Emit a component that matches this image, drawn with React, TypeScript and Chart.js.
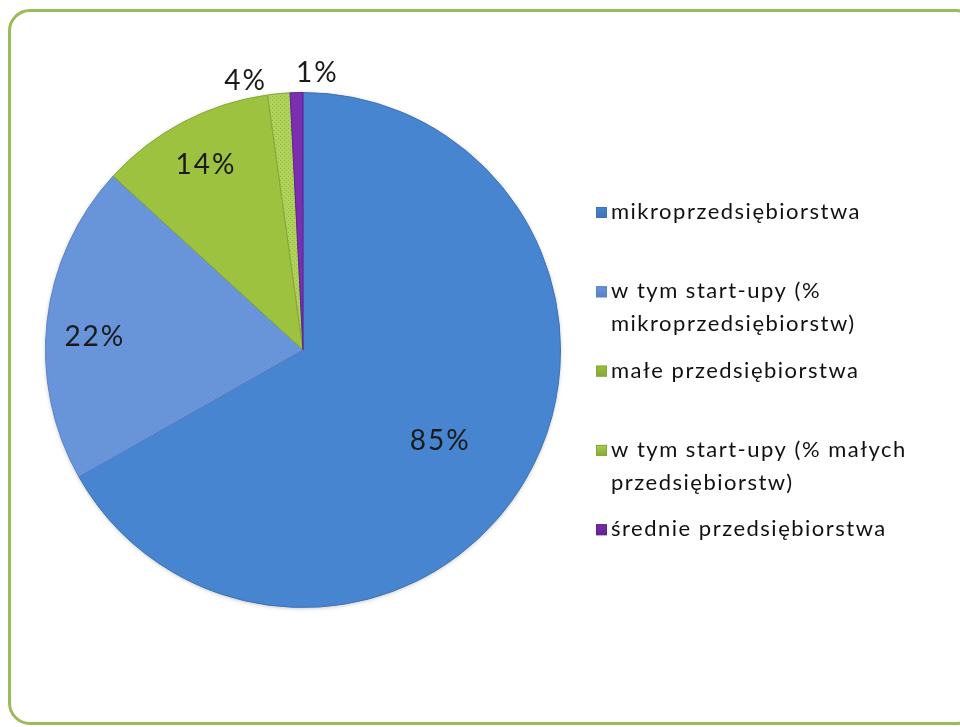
import React, { useEffect, useRef } from 'react';
import { Chart, registerables } from 'chart.js';

Chart.register(...registerables);

const categories = [
  'mikroprzedsiębiorstwa',
  'w tym start-upy (% mikroprzedsiębiorstw)',
  'małe przedsiębiorstwa',
  'w tym start-upy (% małych przedsiębiorstw)',
  'średnie przedsiębiorstwa',
];
const sliceShares = [66.8, 20.0, 11.0, 1.4, 0.8];
const labelTexts = ['85%', '22%', '14%', '4%', '1%'];
const baseColors = ['#4885d0', '#6896da', '#9dc23f', '#b0d25a', '#7a2fb0'];
const dotColors = ['', '#6f88d4', '', '#93bb3e', ''];
const edgeColors = ['#3f72b3', '#5a82c4', '#86a835', '#86a835', '#5e2390'];

function makeFill(ctx: CanvasRenderingContext2D, i: number): any {
  if (!dotColors[i]) return baseColors[i];
  const c = document.createElement('canvas');
  c.width = 4;
  c.height = 4;
  const x = c.getContext('2d')!;
  x.fillStyle = baseColors[i];
  x.fillRect(0, 0, 4, 4);
  x.fillStyle = dotColors[i];
  x.fillRect(0, 0, 1, 1);
  x.fillRect(2, 2, 1, 1);
  return ctx.createPattern(c, 'repeat');
}

const LABEL_FONT = '28px Lato, "Open Sans", sans-serif';
const LEGEND_FONT = '22px Lato, "Open Sans", sans-serif';

const labelPlugin = {
  id: 'sliceLabels',
  afterDatasetsDraw(chart: any) {
    const ctx = chart.ctx as CanvasRenderingContext2D;
    const meta = chart.getDatasetMeta(0);
    const total = sliceShares.reduce((a, b) => a + b, 0);
    let outsideCount = 0;
    ctx.save();
    ctx.font = LABEL_FONT;
    (ctx as any).letterSpacing = '2px';
    ctx.fillStyle = '#1a1a1a';
    ctx.textBaseline = 'middle';
    meta.data.forEach((arc: any, i: number) => {
      const { x, y, startAngle, endAngle, outerRadius } = arc.getProps(
        ['x', 'y', 'startAngle', 'endAngle', 'outerRadius'],
        true
      );
      const mid = (startAngle + endAngle) / 2;
      const share = (sliceShares[i] / total) * 100;
      if (share >= 5) {
        const f = share > 50 ? 0.64 : 0.81;
        const a = share > 50 ? mid + 0.06 : share > 15 ? mid - 0.05 : mid;
        const lx = x + Math.cos(a) * outerRadius * f;
        const ly = y + Math.sin(a) * outerRadius * f;
        ctx.textAlign = 'center';
        ctx.fillText(labelTexts[i], lx, ly);
      } else {
        const r = outerRadius + 20;
        const lx = x + Math.cos(mid) * r;
        const ly = y + Math.sin(mid) * r;
        if (outsideCount === 0) {
          ctx.textAlign = 'right';
          ctx.fillText(labelTexts[i], lx - 10, ly + 7);
        } else {
          ctx.textAlign = 'left';
          ctx.fillText(labelTexts[i], lx, ly);
        }
        outsideCount++;
      }
    });
    ctx.restore();
  },
};

function wrapText(ctx: CanvasRenderingContext2D, text: string, maxW: number): string[] {
  const words = text.split(' ');
  const lines: string[] = [];
  let cur = '';
  for (const w of words) {
    const t = cur ? cur + ' ' + w : w;
    if (ctx.measureText(t).width > maxW && cur) {
      lines.push(cur);
      cur = w;
    } else cur = t;
  }
  if (cur) lines.push(cur);
  return lines;
}

const legendPlugin = {
  id: 'sideLegend',
  afterDraw(chart: any) {
    const ctx = chart.ctx as CanvasRenderingContext2D;
    const left = 596;
    const top = 212;
    const step = 79.3;
    const lineH = 33;
    ctx.save();
    ctx.font = LEGEND_FONT;
    (ctx as any).letterSpacing = '1.5px';
    ctx.textBaseline = 'middle';
    ctx.textAlign = 'left';
    categories.forEach((name, i) => {
      const y = top + i * step;
      const g = ctx.createLinearGradient(left, y - 6, left, y + 6);
      g.addColorStop(0, baseColors[i]);
      g.addColorStop(1, edgeColors[i]);
      ctx.fillStyle = g;
      ctx.fillRect(left, y - 5, 11, 11);
      ctx.strokeStyle = edgeColors[i];
      ctx.lineWidth = 1;
      ctx.strokeRect(left + 0.5, y - 4.5, 10, 10);
      ctx.fillStyle = '#111';
      const lines = wrapText(ctx, name, 320);
      lines.forEach((ln, k) => ctx.fillText(ln, left + 15, y + k * lineH));
    });
    ctx.restore();
  },
};

const shadowPlugin = {
  id: 'pieShadow',
  beforeDatasetsDraw(chart: any) {
    const ctx = chart.ctx as CanvasRenderingContext2D;
    const meta = chart.getDatasetMeta(0);
    const a = meta.data[0];
    if (!a) return;
    ctx.save();
    ctx.shadowColor = 'rgba(0,0,0,0.35)';
    ctx.shadowBlur = 5;
    ctx.shadowOffsetY = 1;
    ctx.beginPath();
    ctx.arc(a.x, a.y, a.outerRadius - 1, 0, Math.PI * 2);
    ctx.fillStyle = '#4885d0';
    ctx.fill();
    ctx.restore();
  },
};

export default function App() {
  const ref = useRef<HTMLCanvasElement>(null);
  useEffect(() => {
    document.body.style.margin = '0';
    const canvas = ref.current!;
    const ctx = canvas.getContext('2d')!;
    const fills = categories.map((_, i) => makeFill(ctx, i));
    const chart = new Chart(canvas, {
      type: 'pie',
      data: {
        labels: categories,
        datasets: [
          {
            data: sliceShares,
            backgroundColor: fills,
            borderColor: edgeColors,
            borderWidth: 1,
          },
        ],
      },
      options: {
        animation: false,
        responsive: false,
        maintainAspectRatio: false,
        layout: { padding: { left: 45, top: 92, right: 399, bottom: 119 } },
        plugins: {
          legend: { display: false },
          tooltip: { enabled: false },
        },
      },
      plugins: [shadowPlugin, labelPlugin, legendPlugin],
    });
    return () => chart.destroy();
  }, []);
  return (
    <div style={{ position: 'relative', width: 960, height: 727, overflow: 'hidden', background: '#fff' }}>
      <div
        style={{
          position: 'absolute',
          left: 8,
          top: 9,
          width: 970,
          height: 716,
          border: '3px solid #9bbb59',
          borderRadius: 22,
          boxSizing: 'border-box',
        }}
      />
      <canvas ref={ref} width={960} height={727} style={{ position: 'absolute', left: 0, top: 0 }} />
    </div>
  );
}
